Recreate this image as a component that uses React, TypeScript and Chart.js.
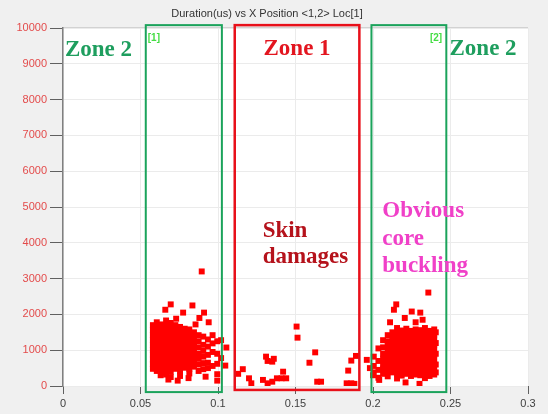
import React, { useEffect, useRef } from "react";
import { Chart, registerables } from "chart.js";

Chart.register(...registerables);

const chartTitle = "Duration(us) vs X Position <1,2> Loc[1]";
const xTickValues = [0, 0.05, 0.1, 0.15, 0.2, 0.25, 0.3];
const yTickValues = [0, 1000, 2000, 3000, 4000, 5000, 6000, 7000, 8000, 9000, 10000];

// Left Zone 2 cluster, read column by column: [x, durations at that x]
const leftClusterColumns: [number, number[]][] = [
  [0.058, [1700, 1560, 1420, 1290, 1150, 1010, 880, 740, 610, 480]],
  [0.0605, [1780, 1640, 1500, 1360, 1230, 1090, 950, 820, 690, 550, 420]],
  [0.0635, [1720, 1590, 1450, 1310, 1180, 1040, 900, 770, 640, 500, 370]],
  [0.0665, [1830, 1680, 1540, 1400, 1270, 1130, 990, 860, 720, 590, 460, 320]],
  [0.0695, [1760, 1620, 1480, 1350, 1210, 1070, 940, 800, 670, 530, 400, 250]],
  [0.0725, [1700, 1570, 1430, 1290, 1160, 1020, 880, 750, 610, 480]],
  [0.0755, [1650, 1510, 1380, 1240, 1100, 970, 830, 700, 560, 430, 280]],
  [0.0785, [1600, 1460, 1320, 1190, 1050, 910, 780, 640, 510]],
  [0.0815, [1580, 1430, 1300, 1160, 1020, 890, 750, 620, 480, 350]],
  [0.0845, [1500, 1360, 1220, 1090, 950, 810, 680, 540]],
  [0.0875, [1420, 1250, 1080, 900, 760, 600, 420]],
  [0.0905, [1380, 1150, 980, 820, 640, 470]],
  [0.0935, [1300, 1100, 870, 650, 500]],
  [0.0965, [1420, 1190, 950, 560]],
  [0.0995, [1250, 900, 620, 330, 150]],
  [0.102, [1280, 780]],
];
const leftClusterExtra: [number, number][] = [
  [0.0895, 3200], [0.0695, 2280], [0.066, 2130], [0.0775, 2050], [0.0835, 2250],
  [0.091, 2050], [0.088, 1900], [0.094, 1780], [0.0855, 1720], [0.073, 1880],
  [0.063, 300], [0.068, 180], [0.074, 150], [0.081, 220], [0.092, 260],
];

// Zone 1 sparse hits
const zone1Points: [number, number][] = [
  [0.1054, 1075], [0.1047, 570], [0.116, 470], [0.113, 340], [0.12, 215],
  [0.1215, 75], [0.129, 170], [0.132, 75], [0.131, 820], [0.132, 700],
  [0.136, 760], [0.135, 680], [0.135, 120], [0.138, 215], [0.141, 215],
  [0.142, 400], [0.144, 215], [0.1507, 1660], [0.1513, 1350], [0.159, 650],
  [0.1627, 940], [0.164, 120], [0.1665, 120], [0.183, 75], [0.186, 75],
  [0.188, 60], [0.184, 430], [0.186, 710], [0.189, 840],
];

// Right Zone 2 cluster
const rightClusterColumns: [number, number[]][] = [
  [0.2005, [820, 560, 380]],
  [0.2035, [1050, 700, 450, 230]],
  [0.2065, [1280, 1080, 900, 760, 620, 480, 340]],
  [0.2095, [1420, 1250, 1110, 970, 830, 690, 550, 410, 270]],
  [0.2125, [1500, 1360, 1220, 1080, 940, 800, 660, 520, 380]],
  [0.2155, [1620, 1470, 1330, 1190, 1050, 910, 770, 630, 490, 350, 210]],
  [0.2185, [1550, 1410, 1270, 1130, 990, 850, 710, 570, 430, 290]],
  [0.2215, [1600, 1460, 1320, 1180, 1040, 900, 760, 620, 480, 340]],
  [0.2245, [1540, 1400, 1260, 1120, 980, 840, 700, 560, 420, 280]],
  [0.2275, [1580, 1440, 1300, 1160, 1020, 880, 740, 600, 460, 320]],
  [0.2305, [1560, 1420, 1280, 1140, 1000, 860, 720, 580, 440, 300]],
  [0.2335, [1620, 1480, 1340, 1200, 1060, 920, 780, 640, 500, 360, 220]],
  [0.2365, [1540, 1400, 1260, 1120, 980, 840, 700, 560, 420, 280]],
  [0.2395, [1580, 1440, 1300, 1160, 1020, 880, 740, 600, 460, 320]],
  [0.2405, [1500, 1200, 900, 600, 380]],
];
const rightClusterExtra: [number, number][] = [
  [0.2357, 2610], [0.215, 2280], [0.2135, 2130], [0.225, 2080], [0.2305, 2050],
  [0.2205, 1900], [0.232, 1850], [0.211, 1780], [0.2275, 1780], [0.196, 730],
  [0.198, 500], [0.2, 300], [0.204, 170], [0.221, 100], [0.23, 60],
];

type Box = { x0: number; x1: number; y0: number; y1: number; color: string; width: number };
const zoneBoxes: Box[] = [
  { x0: 0.0534, x1: 0.1025, y0: -170, y1: 10080, color: "#1ba35b", width: 2 },
  { x0: 0.1108, x1: 0.1912, y0: -110, y1: 10080, color: "#e8101a", width: 2.5 },
  { x0: 0.199, x1: 0.2473, y0: -170, y1: 10080, color: "#1ba35b", width: 2 },
];

type Label = { text: string[]; x: number; y: number; color: string; font: string; align: CanvasTextAlign; lineStep: number };
const zoneLabels: Label[] = [
  { text: ["Zone 2"], x: 0.0229, y: 9220, color: "#1e9e5e", font: 'bold 23px "Liberation Serif"', align: "center", lineStep: 0 },
  { text: ["Zone 1"], x: 0.151, y: 9250, color: "#e3151f", font: 'bold 23px "Liberation Serif"', align: "center", lineStep: 0 },
  { text: ["Zone 2"], x: 0.271, y: 9250, color: "#1e9e5e", font: 'bold 23px "Liberation Serif"', align: "center", lineStep: 0 },
  { text: ["[1]"], x: 0.0547, y: 9640, color: "#44dd44", font: 'bold 10px "Liberation Sans"', align: "left", lineStep: 0 },
  { text: ["[2]"], x: 0.2446, y: 9640, color: "#44dd44", font: 'bold 10px "Liberation Sans"', align: "right", lineStep: 0 },
  { text: ["Skin", "damages"], x: 0.1288, y: 4160, color: "#b5121b", font: 'bold 23px "Liberation Serif"', align: "left", lineStep: 730 },
  { text: ["Obvious", "core", "buckling"], x: 0.206, y: 4720, color: "#f040c8", font: 'bold 23px "Liberation Serif"', align: "left", lineStep: 770 },
];

const toPoints = (cols: [number, number[]][], extra: [number, number][]) => [
  ...cols.flatMap(([x, ys]) => ys.map((y) => ({ x, y }))),
  ...extra.map(([x, y]) => ({ x, y })),
];

const decorPlugin = {
  id: "decor",
  beforeDraw(chart: any) {
    const { ctx, chartArea: a, width, height } = chart;
    ctx.save();
    ctx.fillStyle = "#f0f0f0";
    ctx.fillRect(0, 0, width, height);
    ctx.fillStyle = "#ffffff";
    ctx.fillRect(a.left, a.top, a.right - a.left, a.bottom - a.top);
    ctx.strokeStyle = "#c8c8c8";
    ctx.lineWidth = 1.5;
    ctx.beginPath();
    ctx.moveTo(a.left, a.top);
    ctx.lineTo(a.right, a.top);
    ctx.stroke();
    ctx.fillStyle = "#333333";
    ctx.font = '11px "Liberation Sans"';
    ctx.textAlign = "center";
    ctx.textBaseline = "middle";
    ctx.fillText(chartTitle, 267, 14);
    ctx.restore();
  },
  afterDatasetsDraw(chart: any) {
    const { ctx } = chart;
    const xs = chart.scales.x;
    const ys = chart.scales.y;
    ctx.save();
    for (const b of zoneBoxes) {
      const l = xs.getPixelForValue(b.x0);
      const r = xs.getPixelForValue(b.x1);
      const t = ys.getPixelForValue(b.y1);
      const btm = ys.getPixelForValue(b.y0);
      ctx.strokeStyle = b.color;
      ctx.lineWidth = b.width;
      ctx.strokeRect(l, t, r - l, btm - t);
    }
    ctx.textBaseline = "alphabetic";
    for (const lb of zoneLabels) {
      ctx.fillStyle = lb.color;
      ctx.font = lb.font;
      ctx.textAlign = lb.align;
      lb.text.forEach((line, i) => {
        ctx.fillText(line, xs.getPixelForValue(lb.x), ys.getPixelForValue(lb.y - i * lb.lineStep));
      });
    }
    ctx.restore();
  },
};

export default function App() {
  const ref = useRef<HTMLCanvasElement>(null);
  useEffect(() => {
    if (!ref.current) return;
    const pts = [
      ...toPoints(leftClusterColumns, leftClusterExtra),
      ...zone1Points.map(([x, y]) => ({ x, y })),
      ...toPoints(rightClusterColumns, rightClusterExtra),
    ];
    const chart = new Chart(ref.current, {
      type: "scatter",
      data: {
        datasets: [
          {
            data: pts,
            backgroundColor: "#ff0000",
            borderWidth: 0,
            pointStyle: "rect",
            pointRadius: 4.2,
            pointHoverRadius: 4.2,
          },
        ],
      },
      options: {
        responsive: false,
        animation: false,
        devicePixelRatio: 1,
        layout: { padding: { left: 0, top: 28, right: 20, bottom: 0 } },
        plugins: { legend: { display: false }, title: { display: false }, tooltip: { enabled: false } },
        scales: {
          x: {
            type: "linear",
            min: 0,
            max: 0.3,
            afterFit: (s: any) => { s.height = 28; },
            afterBuildTicks: (s: any) => { s.ticks = xTickValues.map((v) => ({ value: v })); },
            ticks: {
              color: "#404040",
              font: { family: "Liberation Sans", size: 11 },
              padding: 3,
              maxRotation: 0,
              callback: (v: any) => String(Math.round(Number(v) * 100) / 100),
            },
            grid: { color: "#ebebeb", tickColor: "#606060", tickLength: 8, drawTicks: true },
            border: { display: false },
          },
          y: {
            type: "linear",
            min: 0,
            max: 10000,
            afterFit: (s: any) => { s.width = 63; },
            afterBuildTicks: (s: any) => { s.ticks = yTickValues.map((v) => ({ value: v })); },
            ticks: {
              color: "#e34b4b",
              font: { family: "Liberation Sans", size: 11 },
              padding: 3,
              callback: (v: any) => String(v),
            },
            grid: { color: "#ebebeb", tickColor: "#606060", tickLength: 13, drawTicks: true },
            border: { display: true, color: "#808080", width: 1.5 },
          },
        },
      },
      plugins: [decorPlugin],
    });
    return () => chart.destroy();
  }, []);
  return (
    <div style={{ position: "fixed", left: 0, top: 0, width: 548, height: 414 }}>
      <canvas ref={ref} width={548} height={414} />
    </div>
  );
}
